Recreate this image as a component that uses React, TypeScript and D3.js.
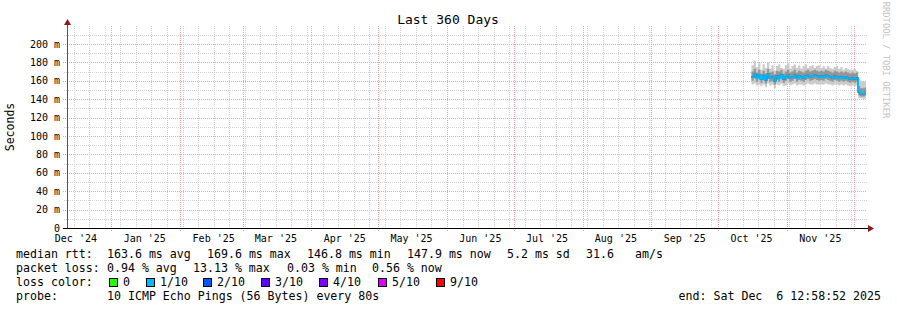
import React from "react";
import * as d3 from "d3";

const W = 897;
const H = 310;
const TITLE = "Last 360 Days";
const Y_LABEL = "Seconds";
const WATERMARK = "RRDTOOL / TOBI OETIKER";
const START = Date.UTC(2024, 11, 11, 12, 58, 52);
const END = Date.UTC(2025, 11, 6, 12, 58, 52);
const Y_TICKS = [0, 20, 40, 60, 80, 100, 120, 140, 160, 180, 200];
const Y_MINOR = [10, 30, 50, 70, 90, 110, 130, 150, 170, 190, 210];
const DATA_START = Date.UTC(2025, 9, 16, 0, 0, 0);
const DAY = 86400000;

// one value per day from 2025-10-16, milliseconds
const medianMs = [164, 167, 163, 166, 162, 165, 161, 167, 163, 164, 160, 165, 163, 166, 162, 164, 166, 163, 164, 166, 163, 165, 164, 163, 165, 166, 164, 165, 166, 165, 164, 165, 164, 166, 165, 164, 163, 165, 164, 163, 164, 163, 164, 163, 162, 163, 162, 163, 148, 146, 146, 147];
const maxMs = [177, 182, 175, 179, 172, 178, 174, 180, 173, 177, 171, 176, 178, 174, 173, 177, 179, 173, 176, 178, 174, 177, 173, 176, 178, 174, 176, 177, 174, 176, 177, 174, 176, 173, 176, 174, 173, 175, 176, 173, 175, 172, 174, 173, 172, 172, 173, 171, 162, 160, 159, 159];
const p75Ms = [170, 173, 169, 172, 168, 171, 168, 173, 169, 170, 167, 171, 170, 172, 168, 170, 172, 169, 170, 172, 169, 171, 170, 169, 171, 172, 170, 171, 172, 171, 170, 171, 170, 172, 171, 170, 169, 171, 170, 169, 170, 169, 170, 169, 168, 169, 168, 169, 154, 152, 152, 153];
const p25Ms = [160, 163, 159, 162, 158, 161, 157, 163, 159, 160, 156, 161, 159, 162, 158, 160, 162, 159, 160, 162, 159, 161, 160, 159, 161, 162, 160, 161, 162, 161, 160, 161, 160, 162, 161, 160, 159, 161, 160, 159, 160, 159, 160, 159, 158, 159, 158, 159, 144, 143, 143, 144];
const minMs = [156, 157, 155, 156, 154, 156, 153, 157, 155, 156, 152, 156, 155, 157, 154, 155, 157, 155, 156, 157, 155, 156, 156, 155, 156, 157, 156, 156, 157, 156, 156, 156, 156, 157, 156, 156, 155, 156, 156, 155, 156, 155, 156, 155, 154, 155, 154, 155, 141, 141, 140, 141];

const LOSS_LABELS = ["0", "1/10", "2/10", "3/10", "4/10", "5/10", "9/10"];
const LOSS_COLORS = ["#26ff00", "#00b8ff", "#0059ff", "#5e00ff", "#7e00ff", "#dd00ff", "#ff0000"];
const MEDIAN_COLOR = "#00b8ff";

const RTT_LABEL = "median rtt:";
const RTT_ITEMS = ["163.6 ms avg", "169.6 ms max", "146.8 ms min", "147.9 ms now", "5.2 ms sd", "31.6", "am/s"];
const LOSS_LABEL = "packet loss:";
const LOSS_ITEMS = ["0.94 % avg", "13.13 % max", "0.03 % min", "0.56 % now"];
const COLOR_LABEL = "loss color:";
const PROBE_LABEL = "probe:";
const PROBE_TEXT = "10 ICMP Echo Pings (56 Bytes) every 80s";
const END_TEXT = "end: Sat Dec  6 12:58:52 2025";

const FONT = "'DejaVu Sans Mono', monospace";
const nb = (s: string) => s.replace(/ /g, "\u00a0");

export default function App() {
  const x = d3.scaleUtc().domain([new Date(START), new Date(END)]).range([66, 866]);
  const y = d3.scaleLinear().domain([0, 200]).range([228, 44]);
  const top = 26;

  const pts = medianMs.map((m, i) => ({
    t: new Date(DATA_START + i * DAY),
    med: m,
    max: maxMs[i],
    p75: p75Ms[i],
    p25: p25Ms[i],
    min: minMs[i],
  }));
  const last = pts[pts.length - 1];
  const ptsExt = [...pts, { ...last, t: new Date(END) }];

  const areaOuter = d3.area<any>().x((d) => x(d.t)).y0((d) => y(d.min)).y1((d) => y(d.max)).curve(d3.curveStepAfter);
  const areaInner = d3.area<any>().x((d) => x(d.t)).y0((d) => y(d.p25)).y1((d) => y(d.p75)).curve(d3.curveStepAfter);
  const medLine = d3.line<any>().x((d) => x(d.t)).y((d) => y(d.med)).curve(d3.curveStepAfter);

  const weeks = d3.utcSunday.range(new Date(START), new Date(END));
  const months = d3.utcMonth.range(new Date(START), new Date(END));
  const monthLabels = d3.utcMonth
    .range(d3.utcMonth.floor(new Date(START)), new Date(END))
    .map((m) => new Date(Date.UTC(m.getUTCFullYear(), m.getUTCMonth(), 16)))
    .filter((d) => +d > START && +d < END);
  const fmt = d3.utcFormat("%b '%y");

  const rttX = [107, 207, 307, 407, 507, 586, 635];
  const lossX = [107, 193, 287, 372];
  const boxX = [109, 146, 203, 261, 319, 378, 436];
  const px = (v: number) => Math.round(v) + 0.5;

  return (
    <svg width={W} height={H} style={{ position: "absolute", left: 0, top: 0, background: "#fff" }} fontFamily={FONT}>
      <rect x={0} y={0} width={W} height={H} fill="#fff" />
      {/* grid */}
      {weeks.map((w, i) => (
        <line key={"w" + i} x1={px(x(w))} x2={px(x(w))} y1={top} y2={228} stroke="#d2d2d2" strokeDasharray="1,1" />
      ))}
      {Y_MINOR.map((v) => (
        <line key={"ym" + v} x1={64} x2={867} y1={px(y(v))} y2={px(y(v))} stroke="#d2d2d2" strokeDasharray="1,1" />
      ))}
      {months.map((m, i) => (
        <line key={"m" + i} x1={px(x(m))} x2={px(x(m))} y1={top} y2={231} stroke="#f4a0a0" strokeDasharray="1,1" />
      ))}
      {Y_TICKS.filter((v) => v > 0).map((v) => (
        <line key={"yM" + v} x1={63} x2={867} y1={px(y(v))} y2={px(y(v))} stroke="#f4a0a0" strokeDasharray="1,1" />
      ))}
      {/* smoke */}
      <path d={areaOuter(ptsExt) || ""} fill="#cccccc" />
      <path d={areaInner(ptsExt) || ""} fill="#959595" />
      <path d={medLine(ptsExt) || ""} fill="none" stroke="#111" strokeWidth={1.2} />
      <path d={medLine(ptsExt) || ""} fill="none" stroke={MEDIAN_COLOR} strokeWidth={1.8} strokeLinejoin="miter" />
      {/* axes */}
      <line x1={67.5} x2={67.5} y1={22} y2={229} stroke="#555" />
      <line x1={63} x2={869} y1={228.5} y2={228.5} stroke="#000" />
      <path d="M64,25 L67.5,19 L71,25 Z" fill="#8b1a1a" />
      <path d="M868,225 L874,228.5 L868,232 Z" fill="#8b1a1a" />
      {/* y labels */}
      {Y_TICKS.map((v) => (
        <text key={"yl" + v} x={60} y={y(v) + 3.5} fontSize={10} textAnchor="end" fill="#000">
          {v === 0 ? "0" : nb(`${v} m`)}
        </text>
      ))}
      {/* x labels */}
      {monthLabels.map((d, i) => (
        <text key={"xl" + i} x={x(d)} y={241.5} fontSize={10} textAnchor="middle" fill="#000">
          {nb(fmt(d))}
        </text>
      ))}
      <text x={448} y={24} fontSize={13} textAnchor="middle" fill="#000">{nb(TITLE)}</text>
      <text transform="translate(14,127) rotate(-90)" fontSize={11.5} textAnchor="middle" fill="#000">{Y_LABEL}</text>
      <text transform="translate(883,60) rotate(90)" fontSize={8.8} textAnchor="middle" fill="#c4c4c4">{nb(WATERMARK)}</text>
      {/* legend */}
      <g fontSize={11.6} fill="#000">
        <text x={16} y={258}>{nb(RTT_LABEL)}</text>
        {RTT_ITEMS.map((s, i) => (
          <text key={"r" + i} x={rttX[i]} y={258}>{nb(s)}</text>
        ))}
        <text x={16} y={272}>{nb(LOSS_LABEL)}</text>
        {LOSS_ITEMS.map((s, i) => (
          <text key={"l" + i} x={lossX[i]} y={272}>{nb(s)}</text>
        ))}
        <text x={16} y={286}>{nb(COLOR_LABEL)}</text>
        {LOSS_LABELS.map((s, i) => (
          <g key={"c" + i}>
            <rect x={boxX[i] + 0.5} y={278.5} width={8} height={8} fill={LOSS_COLORS[i]} stroke="#000" />
            <text x={boxX[i] + 14} y={286}>{s}</text>
          </g>
        ))}
        <text x={16} y={300}>{nb(PROBE_LABEL)}</text>
        <text x={107} y={300}>{nb(PROBE_TEXT)}</text>
        <text x={881} y={300} textAnchor="end">{nb(END_TEXT)}</text>
      </g>
    </svg>
  );
}
